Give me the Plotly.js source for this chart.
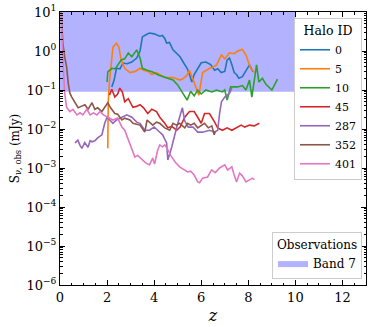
<!DOCTYPE html>
<html>
<head>
<meta charset="utf-8">
<script src="https://cdn.plot.ly/plotly-3.0.1.min.js"></script>
<style>
  body { margin: 0; background: white; }
  #plotlyDiv { width: 374px; height: 327px; }
</style>
</head>
<body>
<div id="plotlyDiv"></div>
<script>
// halo ids and colours (matplotlib tab10)
var haloIds = ['0', '5', '10', '45', '287', '352', '401'];
var haloColors = ['#1f77b4', '#ff7f0e', '#2ca02c', '#d62728', '#9467bd', '#8c564b', '#e377c2'];

// redshift z and flux S (mJy)
var z0 = [2.2, 2.3, 2.4, 2.55, 2.67, 2.85, 3.05, 3.26, 3.4, 3.5, 3.65, 3.8, 4.0, 4.24, 4.35, 4.45, 4.53, 4.65, 4.8, 4.95, 5.1, 5.25, 5.4, 5.5, 5.6, 5.7, 5.85, 6.0, 6.2, 6.4, 6.57, 6.7, 6.85, 7.0, 7.1, 7.2, 7.3, 7.4, 7.5, 7.6, 7.75, 7.9, 8.05, 8.2];
var s0 = [0.12, 0.18, 0.36, 0.35, 0.49, 0.47, 0.52, 0.66, 1.0, 2.3, 2.6, 2.9, 2.75, 2.4, 2.5, 2.1, 1.6, 1.65, 1.07, 0.89, 0.71, 0.5, 0.36, 0.25, 0.16, 0.25, 0.35, 0.5, 0.52, 0.45, 0.32, 0.35, 0.28, 0.3, 0.59, 0.66, 0.45, 0.28, 0.25, 0.2, 0.22, 0.32, 0.44, 0.29];

var z5 = [2.03, 2.05, 2.1, 2.2, 2.25, 2.4, 2.5, 2.6, 2.75, 2.97, 3.2, 3.4, 3.55, 3.75, 3.9, 4.1, 4.45, 4.8, 5.1, 5.25, 5.4, 5.5, 5.65, 5.8, 5.9, 6.06, 6.2, 6.36, 6.5, 6.65, 6.86, 7.0, 7.2, 7.4, 7.55, 7.75, 7.9, 8.1, 8.26];
var s5 = [0.0032, 0.05, 0.16, 0.59, 1.26, 1.58, 1.26, 0.59, 0.36, 0.28, 0.3, 0.36, 0.32, 0.3, 0.25, 0.28, 0.21, 0.21, 0.18, 0.2, 0.24, 0.32, 0.18, 0.11, 0.074, 0.28, 0.32, 0.36, 0.38, 0.44, 0.79, 0.63, 0.9, 0.85, 1.0, 1.1, 0.79, 0.36, 0.28];

var z10 = [2.0, 2.03, 2.2, 2.35, 2.46, 2.6, 2.75, 2.9, 3.05, 3.26, 3.4, 3.5, 3.7, 3.94, 4.2, 4.5, 4.8, 5.0, 5.2, 5.4, 5.55, 5.7, 5.85, 6.0, 6.2, 6.45, 6.65, 6.9, 7.0, 7.1, 7.25, 7.54, 7.75, 7.9, 8.05, 8.15, 8.35, 8.45, 8.6, 8.75, 9.0, 9.24];
var s10 = [0.16, 0.29, 0.36, 0.35, 0.44, 0.59, 0.63, 0.89, 0.71, 1.07, 0.66, 0.36, 0.32, 0.29, 0.24, 0.21, 0.18, 0.135, 0.089, 0.055, 0.093, 0.071, 0.1, 0.079, 0.1, 0.089, 0.1, 0.089, 0.1, 0.055, 0.12, 0.12, 0.13, 0.1, 0.18, 0.066, 0.44, 0.16, 0.2, 0.14, 0.1, 0.19];

var z45 = [2.1, 2.2, 2.33, 2.45, 2.54, 2.65, 2.75, 2.9, 3.1, 3.25, 3.4, 3.55, 3.73, 3.9, 4.1, 4.24, 4.45, 4.58, 4.75, 4.96, 5.1, 5.3, 5.5, 5.7, 5.85, 6.0, 6.14, 6.35, 6.57, 6.7, 6.9, 7.1, 7.3, 7.5, 7.7, 7.85, 8.05, 8.25, 8.47];
var s45 = [0.074, 0.105, 0.066, 0.079, 0.112, 0.089, 0.05, 0.06, 0.036, 0.038, 0.042, 0.035, 0.025, 0.032, 0.028, 0.02, 0.014, 0.0107, 0.0117, 0.0093, 0.0112, 0.02, 0.028, 0.028, 0.02, 0.014, 0.025, 0.025, 0.015, 0.0107, 0.0093, 0.0107, 0.0093, 0.0107, 0.0126, 0.0112, 0.0126, 0.012, 0.014];

var z287 = [0.64, 0.76, 0.85, 0.93, 1.05, 1.19, 1.28, 1.36, 1.48, 1.6, 1.78, 1.9, 2.0, 2.1, 2.25, 2.4, 2.63, 2.84, 3.05, 3.26, 3.4, 3.6, 3.8, 4.0, 4.15, 4.36, 4.53, 4.58, 4.75, 4.85, 4.96, 5.08, 5.2, 5.3, 5.45, 5.65, 5.85, 6.05, 6.36, 6.57, 6.7, 6.78, 6.86, 7.0, 7.1, 7.2, 7.3];
var s287 = [0.0044, 0.0052, 0.0038, 0.0032, 0.0045, 0.0034, 0.005, 0.0047, 0.005, 0.0059, 0.0071, 0.014, 0.02, 0.017, 0.014, 0.017, 0.02, 0.023, 0.02, 0.015, 0.014, 0.0093, 0.0093, 0.0112, 0.0093, 0.0071, 0.0044, 0.0016, 0.0035, 0.0063, 0.0112, 0.02, 0.035, 0.016, 0.0112, 0.0112, 0.0083, 0.0083, 0.0093, 0.0083, 0.0093, 0.025, 0.05, 0.066, 0.074, 0.083, 0.112];

var z352 = [0.05, 0.12, 0.2, 0.28, 0.35, 0.42, 0.5, 0.64, 0.77, 0.9, 1.06, 1.19, 1.36, 1.48, 1.6, 1.78, 1.9, 2.03, 2.15, 2.33, 2.45, 2.63, 2.75, 2.97, 3.1, 3.4, 3.6, 3.7, 3.94, 4.1, 4.24, 4.45, 4.66, 4.8, 4.95, 5.08, 5.3, 5.42, 5.55, 5.7, 5.85, 6.0, 6.14, 6.3, 6.45, 6.55, 6.6];
var s352 = [10, 1.6, 0.7, 0.4, 0.15, 0.083, 0.066, 0.047, 0.035, 0.038, 0.042, 0.032, 0.047, 0.032, 0.035, 0.028, 0.035, 0.047, 0.035, 0.025, 0.024, 0.017, 0.019, 0.017, 0.014, 0.0126, 0.0083, 0.017, 0.0126, 0.015, 0.014, 0.0107, 0.0093, 0.014, 0.0126, 0.014, 0.0107, 0.014, 0.0126, 0.014, 0.0107, 0.0126, 0.014, 0.0107, 0.012, 0.0071, 0.0089];

var z401 = [0.05, 0.1, 0.15, 0.2, 0.28, 0.42, 0.55, 0.72, 0.85, 0.97, 1.14, 1.28, 1.42, 1.57, 1.7, 1.85, 2.03, 2.25, 2.45, 2.63, 2.75, 2.88, 3.0, 3.18, 3.3, 3.5, 3.64, 3.8, 3.94, 4.02, 4.15, 4.24, 4.35, 4.45, 4.55, 4.7, 4.9, 5.08, 5.3, 5.42, 5.55, 5.7, 5.85, 5.93, 6.06, 6.27, 6.44, 6.6, 6.78, 7.0, 7.12, 7.3, 7.4, 7.5, 7.63, 7.75, 7.9, 8.05, 8.18, 8.26];
var s401 = [10, 1.07, 0.28, 0.083, 0.036, 0.028, 0.032, 0.023, 0.026, 0.023, 0.032, 0.023, 0.026, 0.023, 0.028, 0.023, 0.02, 0.017, 0.019, 0.0112, 0.0093, 0.0059, 0.0035, 0.0019, 0.0021, 0.0016, 0.00135, 0.0012, 0.0018, 0.00126, 0.0029, 0.0039, 0.0035, 0.0039, 0.0032, 0.0021, 0.0014, 0.00107, 0.00089, 0.00079, 0.00083, 0.00066, 0.00044, 0.00042, 0.00055, 0.00059, 0.00089, 0.00076, 0.001, 0.0012, 0.00089, 0.00107, 0.00066, 0.00044, 0.00074, 0.00063, 0.00044, 0.0005, 0.00055, 0.0005];

// ALMA band 7 sensitivity region
var bandZ = [0, 10];
var bandLow = 0.09;
var bandHigh = 10;

var yTickVals = [1e-6, 1e-5, 1e-4, 1e-3, 1e-2, 1e-1, 1, 10];
var yTickText = ['10<sup>\u22126</sup>', '10<sup>\u22125</sup>', '10<sup>\u22124</sup>', '10<sup>\u22123</sup>',
                 '10<sup>\u22122</sup>', '10<sup>\u22121</sup>', '10<sup>0</sup>', '10<sup>1</sup>'];

var zs = [z0, z5, z10, z45, z287, z352, z401];
var ss = [s0, s5, s10, s45, s287, s352, s401];

var font = 'DejaVu Serif';

var data = [{
    type: 'scatter',
    mode: 'lines',
    x: [bandZ[0], bandZ[1], bandZ[1], bandZ[0], bandZ[0]],
    y: [bandLow, bandLow, bandHigh, bandHigh, bandLow],
    fill: 'toself',
    fillcolor: 'rgba(0,0,255,0.3)',
    line: {width: 0},
    name: 'Band 7',
    legend: 'legend2',
    hoverinfo: 'skip'
}];

for (var i = 0; i < haloIds.length; i++) {
    data.push({
        type: 'scatter',
        mode: 'lines',
        x: zs[i],
        y: ss[i],
        name: haloIds[i],
        line: {color: haloColors[i], width: 1.6}
    });
}

// minor ticks 2..9 in every decade
var minorY = [];
for (var p = -6; p < 1; p++) {
    for (var m = 2; m < 10; m++) minorY.push(m * Math.pow(10, p));
}

var layout = {
    width: 374,
    height: 327,
    margin: {l: 60, r: 8, t: 12, b: 42},
    paper_bgcolor: 'white',
    plot_bgcolor: 'white',
    font: {family: font, size: 12, color: 'black'},
    showlegend: true,
    xaxis: {
        range: [0, 13],
        dtick: 2,
        showgrid: false,
        zeroline: false,
        showline: true,
        linecolor: 'black',
        linewidth: 1,
        mirror: 'allticks',
        ticks: 'inside',
        ticklen: 5,
        tickcolor: 'black',
        minor: {dtick: 0.5, ticks: 'inside', ticklen: 2.5, tickcolor: 'black', showgrid: false},
        tickfont: {family: font, size: 13},
        title: {text: '<i>z</i>', font: {family: font, size: 16}, standoff: 6}
    },
    yaxis: {
        type: 'log',
        range: [-6, 1],
        tickmode: 'array',
        tickvals: yTickVals,
        ticktext: yTickText,
        showgrid: false,
        zeroline: false,
        showline: true,
        linecolor: 'black',
        linewidth: 1,
        mirror: 'allticks',
        ticks: 'inside',
        ticklen: 5,
        tickcolor: 'black',
        minor: {tickmode: 'array', tickvals: minorY, ticks: 'inside', ticklen: 2.5, tickcolor: 'black', showgrid: false},
        tickfont: {family: font, size: 13},
        title: {text: 'S<sub>\u03bd, obs</sub> (mJy)', font: {family: font, size: 12}, standoff: 4}
    },
    legend: {
        title: {text: 'Halo ID', side: 'top center', font: {family: font, size: 12.5}},
        x: 0.987, xanchor: 'right',
        y: 0.978, yanchor: 'top',
        bgcolor: 'white',
        bordercolor: '#cccccc',
        borderwidth: 1,
        font: {family: font, size: 11},
        itemwidth: 30,
        tracegroupgap: 0
    },
    legend2: {
        title: {text: 'Observations', side: 'top center', font: {family: font, size: 12}},
        x: 0.987, xanchor: 'right',
        y: 0.022, yanchor: 'bottom',
        bgcolor: 'white',
        bordercolor: '#cccccc',
        borderwidth: 1,
        font: {family: font, size: 12},
        itemwidth: 30
    }
};

Plotly.newPlot('plotlyDiv', data, layout, {displayModeBar: false, staticPlot: true});
</script>
</body>
</html>
